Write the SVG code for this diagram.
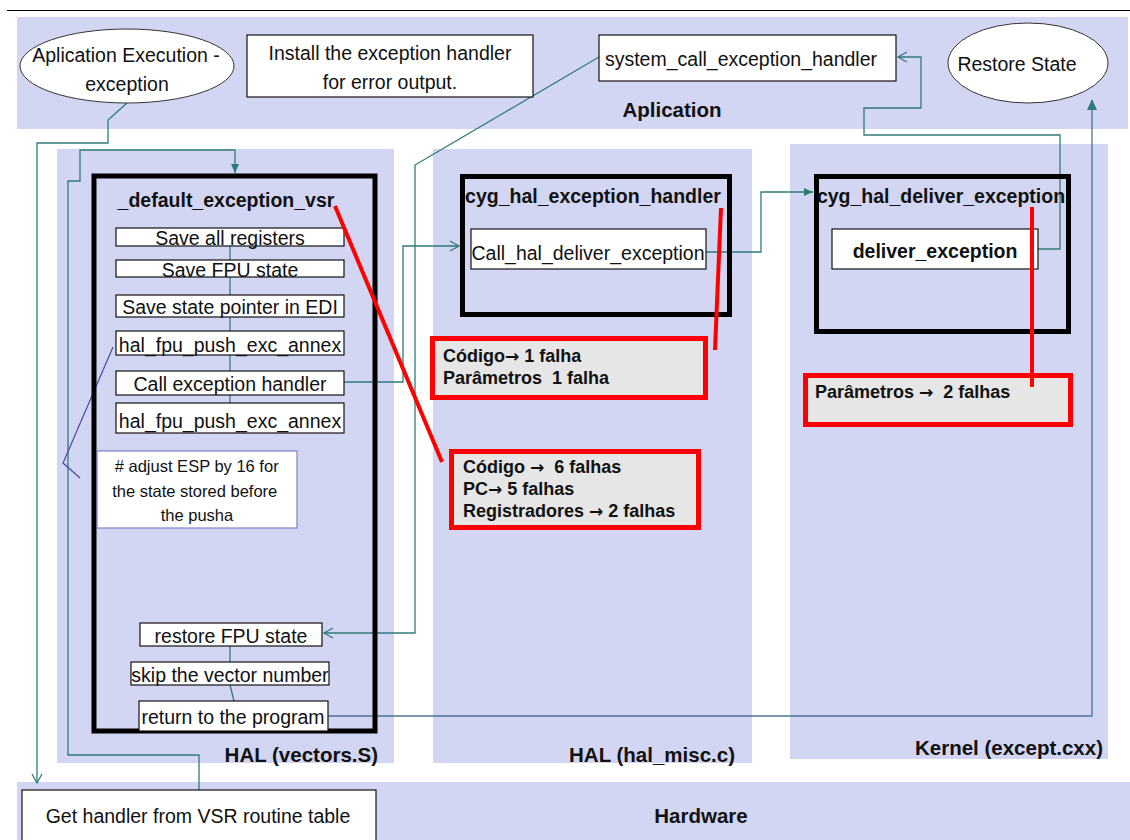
<svg xmlns="http://www.w3.org/2000/svg" width="1130" height="840" viewBox="0 0 1130 840">
<defs>
<style>
.band{fill:#d3d6f2;stroke:none}
.t{font-family:"Liberation Sans",Arial,sans-serif;fill:#111}
.r{font-size:19.5px}
.b{font-size:19.5px;font-weight:bold}
.lbl{font-size:20.5px;font-weight:bold}
.rb{font-size:18px;font-weight:bold;white-space:pre}
.ar{font-family:"DejaVu Sans",sans-serif;font-weight:bold;font-size:17px}
.wbox{fill:#fff;stroke:#111;stroke-width:1.2}
.blk{fill:none;stroke:#000;stroke-width:5}
.red{fill:#e6e6e6;stroke:#f00;stroke-width:5}
.redl{stroke:#f00;stroke-width:4;fill:none}
.c{fill:none;stroke:#2f7b7a;stroke-width:1.3}
.cb{fill:none;stroke:#4d7394;stroke-width:1.3}
.cp{fill:none;stroke:#4848a8;stroke-width:1.2}
</style>
<marker id="open" markerWidth="12" markerHeight="12" refX="10" refY="6" orient="auto" markerUnits="userSpaceOnUse"><path d="M1,1 L10,6 L1,11" fill="none" stroke="#2f7b7a" stroke-width="1.3"/></marker>
<marker id="fill" markerWidth="12" markerHeight="12" refX="10" refY="6" orient="auto" markerUnits="userSpaceOnUse"><path d="M1,2 L10,6 L1,10 z" fill="#2f7b7a"/></marker>
</defs>
<rect width="1130" height="840" fill="#fff"/>
<line x1="7" y1="10.5" x2="1130" y2="10.5" stroke="#000" stroke-width="1.2"/>
<g id="lanes">
<rect class="band" x="17" y="17" width="1111" height="112"/>
<rect class="band" x="57" y="149" width="337" height="614"/>
<rect class="band" x="433" y="149" width="319" height="614"/>
<rect class="band" x="790" y="144" width="318" height="615"/>
<rect class="band" x="17" y="782" width="1113" height="58"/>
<text class="t lbl" x="672" y="117" text-anchor="middle">Aplication</text>
<text class="t lbl" x="378" y="762" text-anchor="end">HAL (vectors.S)</text>
<text class="t lbl" x="735" y="762" text-anchor="end">HAL (hal_misc.c)</text>
<text class="t lbl" x="1103" y="755" text-anchor="end">Kernel (except.cxx)</text>
<text class="t lbl" x="701" y="823" text-anchor="middle">Hardware</text>
</g>
<g id="connectors">
<path class="c" d="M127,103 L108,120 L108,143 L37,143 L37,783" marker-end="url(#open)"/>
<path class="c" d="M199,791 L199,755 L68,755 L68,181 L80,181 L80,150 L235,150 L235,173" marker-end="url(#fill)"/>
<path class="c" d="M230,246 L230,403"/>
<path class="c" d="M230,646 L230,662 M230,685 L234,701"/>
<path class="cp" d="M113,347 L63,463 L80,478"/>
<path class="c" d="M344,382 L403,382 L403,246 L459,246" marker-end="url(#open)"/>
<path class="c" d="M706,252 L761,252 L761,192 L813,192" marker-end="url(#fill)"/>
<path class="c" d="M1038,249 L1060,249 L1060,135 L864,135 L864,108 L921,108 L921,57 L898,57" marker-end="url(#open)"/>
<path class="c" d="M599,57 L415,165 L415,633 L324,633" marker-end="url(#open)"/>
<path class="cb" d="M328,716 L1092,716 L1092,100"/>
<path d="M1087,110 L1092,99 L1097,110 z" fill="#2f7b7a"/>
</g>
<g id="app-exec">
<ellipse cx="127" cy="66" rx="107" ry="37" fill="#fff" stroke="#333" stroke-width="1"/>
<text class="t r" x="126" y="62" text-anchor="middle">Aplication Execution -</text>
<text class="t r" x="127" y="91" text-anchor="middle">exception</text>
</g>
<g id="install">
<rect class="wbox" x="247" y="35" width="286" height="62"/>
<text class="t r" x="390" y="60" text-anchor="middle">Install the exception handler</text>
<text class="t r" x="390" y="89" text-anchor="middle">for error output.</text>
</g>
<g id="syscall">
<rect class="wbox" x="599" y="35" width="297" height="46"/>
<text class="t r" x="741" y="66" text-anchor="middle">system_call_exception_handler</text>
</g>
<g id="restore-state">
<ellipse cx="1028" cy="63" rx="80" ry="40" fill="#fff" stroke="#333" stroke-width="1"/>
<text class="t r" x="1017" y="71" text-anchor="middle">Restore State</text>
</g>
<g id="vsr">
<rect class="blk" x="94" y="176" width="281" height="555"/>
<text class="t b" x="226" y="207" text-anchor="middle">_default_exception_vsr</text>
<rect class="wbox" x="116" y="228" width="228" height="18"/>
<text class="t r" x="230" y="245" text-anchor="middle">Save all registers</text>
<rect class="wbox" x="116" y="260" width="228" height="17"/>
<text class="t r" x="230" y="277" text-anchor="middle">Save FPU state</text>
<rect class="wbox" x="116" y="295" width="228" height="22"/>
<text class="t r" x="230" y="314" text-anchor="middle">Save state pointer in EDI</text>
<rect class="wbox" x="116" y="331" width="228" height="24"/>
<text class="t r" x="230" y="352" text-anchor="middle">hal_fpu_push_exc_annex</text>
<rect class="wbox" x="116" y="371" width="228" height="24"/>
<text class="t r" x="230" y="391" text-anchor="middle">Call exception handler</text>
<rect class="wbox" x="116" y="403" width="228" height="30"/>
<text class="t r" x="230" y="428" text-anchor="middle">hal_fpu_push_exc_annex</text>
<rect x="97" y="451" width="200" height="77" fill="#fff" stroke="#6a6ac0" stroke-width="1"/>
<text class="t" font-size="16.5" text-anchor="middle">
<tspan x="199" y="472"># adjust ESP by 16 for</tspan>
<tspan x="197" y="497">the state stored before</tspan>
<tspan x="197" y="521">the pusha</tspan>
</text>
<rect class="wbox" x="140" y="623" width="182" height="23"/>
<text class="t r" x="231" y="643" text-anchor="middle">restore FPU state</text>
<rect class="wbox" x="131" y="662" width="198" height="23"/>
<text class="t r" x="230" y="682" text-anchor="middle">skip the vector number</text>
<rect class="wbox" x="139" y="701" width="189" height="30"/>
<text class="t r" x="233" y="724" text-anchor="middle">return to the program</text>
</g>
<g id="hal-handler">
<rect class="blk" x="462.5" y="176.5" width="267" height="138"/>
<text class="t b" x="593" y="203" text-anchor="middle">cyg_hal_exception_handler</text>
<rect class="wbox" x="471" y="229" width="235" height="40"/>
<text class="t r" x="588" y="260" text-anchor="middle">Call_hal_deliver_exception</text>
</g>
<g id="kernel-deliver">
<rect class="blk" x="816.5" y="176.5" width="252" height="155"/>
<text class="t b" x="941" y="203" text-anchor="middle">cyg_hal_deliver_exception</text>
<rect class="wbox" x="832" y="229" width="206" height="40"/>
<text class="t b" x="935" y="258" text-anchor="middle">deliver_exception</text>
</g>
<g id="get-handler">
<rect class="wbox" x="22" y="790" width="354" height="60"/>
<text class="t r" x="198" y="823" text-anchor="middle">Get handler from VSR routine table</text>
</g>
<g id="faults">
<rect class="red" x="432.5" y="338.5" width="273" height="59"/>
<text class="t rb" x="443" y="362">Código<tspan class="ar">→</tspan> 1 falha</text>
<text class="t rb" x="443" y="384">Parâmetros  1 falha</text>
<rect class="red" x="451.5" y="451.5" width="247" height="76"/>
<text class="t rb" x="463" y="473">Código <tspan class="ar">→</tspan>  6 falhas</text>
<text class="t rb" x="463" y="495">PC<tspan class="ar">→</tspan> 5 falhas</text>
<text class="t rb" x="463" y="517">Registradores <tspan class="ar">→</tspan> 2 falhas</text>
<rect class="red" x="805.5" y="375.5" width="265" height="49"/>
<text class="t rb" x="815" y="398">Parâmetros <tspan class="ar">→</tspan>  2 falhas</text>
<path class="redl" d="M335,206 L442,462"/>
<path class="redl" d="M721,208 L715,350"/>
<path class="redl" d="M1032,207 L1032,387" stroke-width="5"/>
</g>
</svg>
